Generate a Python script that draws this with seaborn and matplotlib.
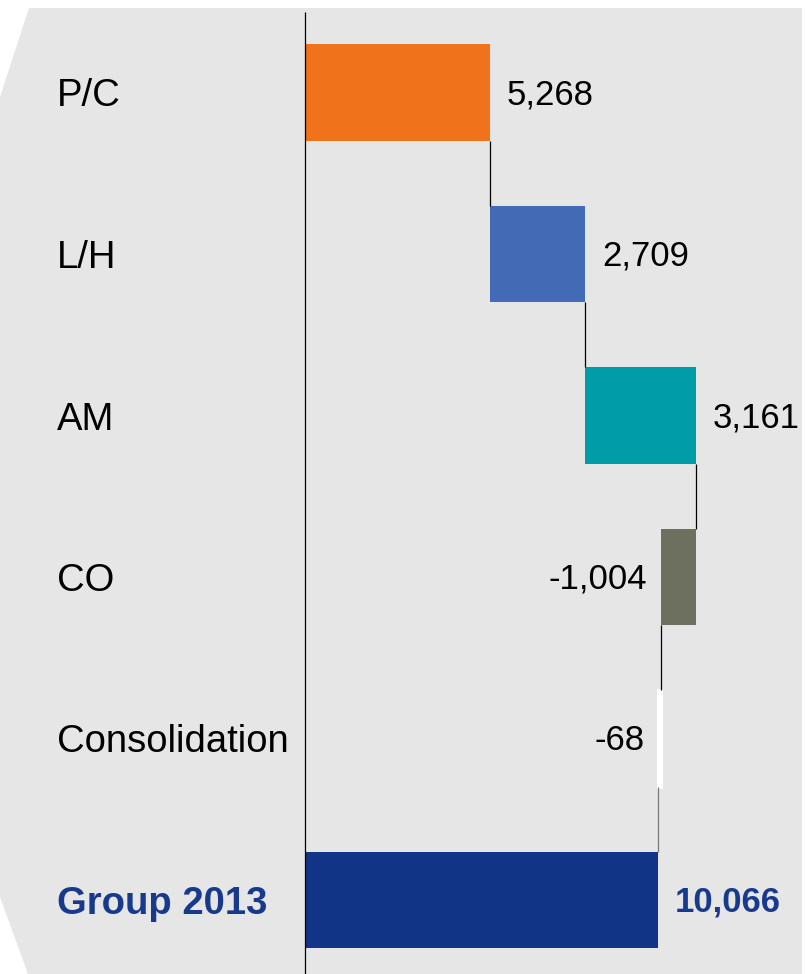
import matplotlib
matplotlib.use("Agg")

import matplotlib.pyplot as plt
import matplotlib.transforms as mtransforms
import numpy as np
import pandas as pd
import seaborn as sns
from matplotlib.patches import Polygon


categories = ["P/C", "L/H", "AM", "CO", "Consolidation", "Group 2013"]
values = [5268, 2709, 3161, -1004, -68, 10066]
value_labels = ["5,268", "2,709", "3,161", "-1,004", "-68", "10,066"]
is_total = [False, False, False, False, False, True]
bar_colors = ["#F0721A", "#436BB5", "#009DA9", "#6E705F", "#FFFFFF", "#123487"]

NAVY = "#173A8C"
BG = "#E6E6E6"
W, H = 805, 974

# waterfall starts: running total for steps, zero for the total bar
starts = []
running = 0
for v, tot in zip(values, is_total):
    if tot:
        starts.append(0)
    else:
        starts.append(running)
        running += v
ends = [s + v for s, v in zip(starts, values)]

df = pd.DataFrame({"category": categories, "value": values})

sns.set_theme(style="white")
plt.rcParams["font.family"] = ["Liberation Sans", "DejaVu Sans"]

fig = plt.figure(figsize=(W / 100, H / 100), dpi=100)
fig.patch.set_facecolor("white")

# grey backdrop with chamfered left edge (pixel coords, y down)
pts = [(29, 8), (802, 8), (802, H), (28, H), (0, 897), (0, 97)]
poly = Polygon([(x / W, 1 - y / H) for x, y in pts], closed=True,
               transform=fig.transFigure, facecolor=BG, edgecolor="none", zorder=-5)
fig.add_artist(poly)

ax = fig.add_axes([0, 0, 1, 1])
ax.set_facecolor("none")

sns.barplot(data=df, x="value", y="category", hue="category", palette=bar_colors,
            orient="h", width=0.6, errorbar=None, legend=False, dodge=False,
            saturation=1, ax=ax)

for patch, s, v, c in zip(ax.patches, starts, values, bar_colors):
    patch.set_x(s)
    patch.set_width(v)
    patch.set_linewidth(0)
    if c == "#FFFFFF":
        patch.set_edgecolor("white")
        patch.set_linewidth(2.2)

# px -> data scale: zero at x=305, 5268 spans 185 px
px_per_unit = 185 / 5268
ax.set_xlim(-305 / px_per_unit, (W - 305) / px_per_unit)
row0, step = 92.5, 161.5
ax.set_ylim((H - row0) / step, -row0 / step)
ax.axis("off")

# y-axis baseline
ax.vlines(0, -0.5, 6, color="black", linewidth=0.9, zorder=1)

# connectors between consecutive bars
for i in range(len(categories) - 1):
    col = "#7A7A7A" if i == len(categories) - 2 else "black"
    ax.vlines(ends[i], i + 0.3, i + 0.7, color=col, linewidth=0.9, zorder=1)

# category labels
trans = mtransforms.blended_transform_factory(fig.transFigure, ax.transData)
for i, (cat, tot) in enumerate(zip(categories, is_total)):
    ax.text(57 / W, i, cat, transform=trans, ha="left", va="center_baseline",
            fontsize=27.5, fontweight="bold" if tot else "normal",
            color=NAVY if tot else "black")

# value labels
for i, (s, e, v, lab, tot) in enumerate(zip(starts, ends, values, value_labels, is_total)):
    if v >= 0:
        ax.annotate(lab, xy=(max(s, e), i), xytext=(12, 1), textcoords="offset points",
                    ha="left", va="center_baseline", fontsize=25,
                    fontweight="bold" if tot else "normal",
                    color=NAVY if tot else "black")
    else:
        ax.annotate(lab, xy=(min(s, e), i), xytext=(-10, 1), textcoords="offset points",
                    ha="right", va="center_baseline", fontsize=25, color="black")

fig.savefig("out.png", dpi=100)
plt.close(fig)
